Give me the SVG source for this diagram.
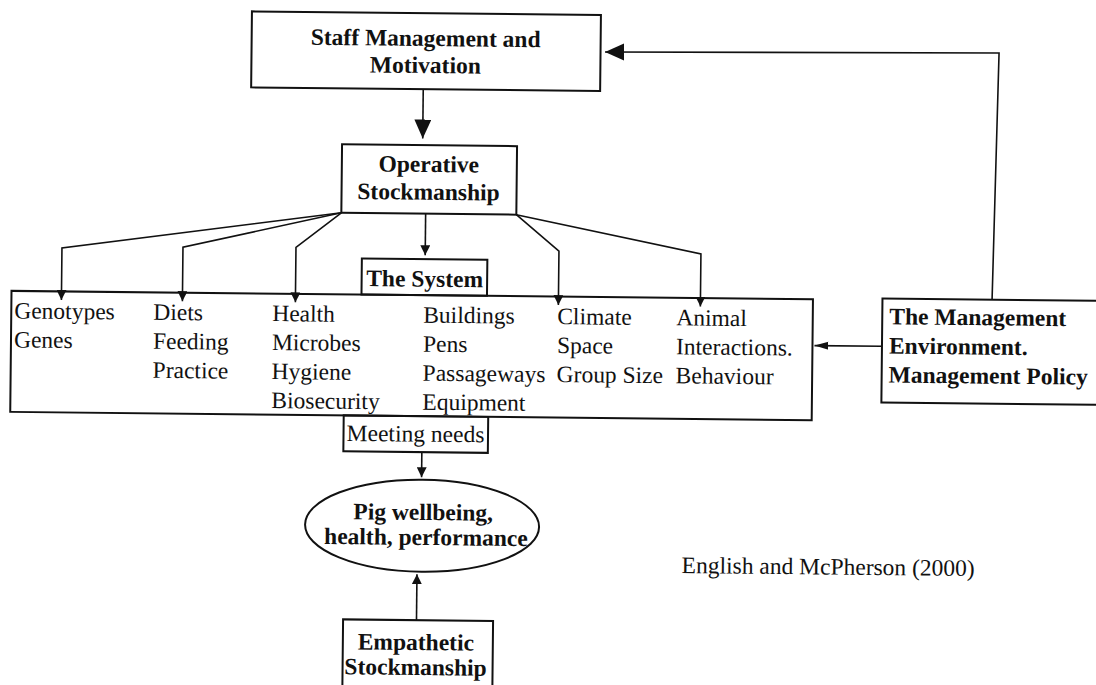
<svg xmlns="http://www.w3.org/2000/svg" width="1096" height="685" viewBox="0 0 1096 685">
<style>
.box{fill:none;stroke:#111;stroke-width:2}
.ln{fill:none;stroke:#111;stroke-width:1.6}
text{font-family:"Liberation Serif","Times New Roman",serif;fill:#111;font-size:23.5px}
.b{font-weight:bold}
.c{text-anchor:middle}
</style>
<defs>
<marker id="ab" markerUnits="userSpaceOnUse" markerWidth="20" markerHeight="18" refX="19" refY="8.5" orient="auto"><path d="M0,0 L19,8.5 L0,17 z" fill="#111"/></marker>
<marker id="am" markerUnits="userSpaceOnUse" markerWidth="15" markerHeight="9" refX="14" refY="4" orient="auto"><path d="M0,0 L14,4 L0,8 z" fill="#111"/></marker>
<marker id="as" markerUnits="userSpaceOnUse" markerWidth="11" markerHeight="10" refX="10" refY="5" orient="auto"><path d="M0,0 L10,5 L0,10 z" fill="#111"/></marker>
</defs>
<rect width="1096" height="685" fill="#fff"/>
<g transform="rotate(0.6 548 342)">
<g id="connectors">
<path class="ln" d="M420.6,90.5 V139.8" marker-end="url(#ab)"/>
<path class="ln" d="M340,215 L61,253 V305" marker-end="url(#as)"/>
<path class="ln" d="M340,215 L182,251 V305" marker-end="url(#as)"/>
<path class="ln" d="M340,215 L295,250 V305" marker-end="url(#as)"/>
<path class="ln" d="M424.3,215 V256.5" marker-end="url(#as)"/>
<path class="ln" d="M515,215 L558,251 V305" marker-end="url(#as)"/>
<path class="ln" d="M515,215 L700,252.4 V305" marker-end="url(#as)"/>
<path class="ln" d="M991.6,295 L996,48.3 L602,51.4" marker-end="url(#ab)"/>
<path class="ln" d="M882,342.8 H814.5" marker-end="url(#am)"/>
<path class="ln" d="M423,453.5 V478.5" marker-end="url(#as)"/>
<path class="ln" d="M419.4,621.5 V575.5" marker-end="url(#as)"/>
</g>
<g id="staff">
<rect class="box" x="248.5" y="14.5" width="349" height="76"/>
<text class="b c" x="422.5" y="47.3">Staff Management and</text>
<text class="b c" x="422.5" y="74.3">Motivation</text>
</g>
<g id="operative">
<rect class="box" x="340" y="146.5" width="175" height="68.5"/>
<text class="b c" x="427" y="173.3">Operative</text>
<text class="b c" x="427" y="201">Stockmanship</text>
</g>
<g id="system-label">
<rect class="box" x="361" y="260.5" width="125.5" height="36"/>
<text class="b c" x="424" y="288">The System</text>
</g>
<g id="system">
<rect class="box" x="11" y="296.5" width="801.5" height="121"/>
<text x="14" y="324">Genotypes</text>
<text x="14" y="353">Genes</text>
<text x="153" y="324">Diets</text>
<text x="153" y="353">Feeding</text>
<text x="153" y="382">Practice</text>
<text x="272" y="324">Health</text>
<text x="272" y="353">Microbes</text>
<text x="272" y="382">Hygiene</text>
<text x="272" y="411">Biosecurity</text>
<text x="423" y="324">Buildings</text>
<text x="423" y="353">Pens</text>
<text x="423" y="382">Passageways</text>
<text x="423" y="411">Equipment</text>
<text x="557" y="324">Climate</text>
<text x="557" y="353">Space</text>
<text x="557" y="382">Group Size</text>
<text x="676" y="324">Animal</text>
<text x="676" y="353">Interactions.</text>
<text x="676" y="382">Behaviour</text>
</g>
<g id="meeting">
<rect class="box" x="344.5" y="417.5" width="144.5" height="36"/>
<text class="c" x="416.5" y="443">Meeting needs</text>
</g>
<g id="wellbeing">
<ellipse class="box" cx="424" cy="527" rx="117" ry="46"/>
<text class="b c" x="425" y="521.3">Pig wellbeing,</text>
<text class="b c" x="428" y="546.3">health, performance</text>
</g>
<g id="empathetic">
<rect class="box" x="346" y="621.5" width="150" height="80"/>
<text class="b c" x="419" y="651.4">Empathetic</text>
<text class="b c" x="419" y="676.4">Stockmanship</text>
</g>
<g id="management">
<rect class="box" x="882" y="295" width="240" height="104"/>
<text class="b" x="889" y="320.7">The Management</text>
<text class="b" x="889" y="350">Environment.</text>
<text class="b" x="889" y="379">Management Policy</text>
</g>
<g id="citation">
<text x="684" y="571.6">English and McPherson (2000)</text>
</g>
</g>
</svg>
